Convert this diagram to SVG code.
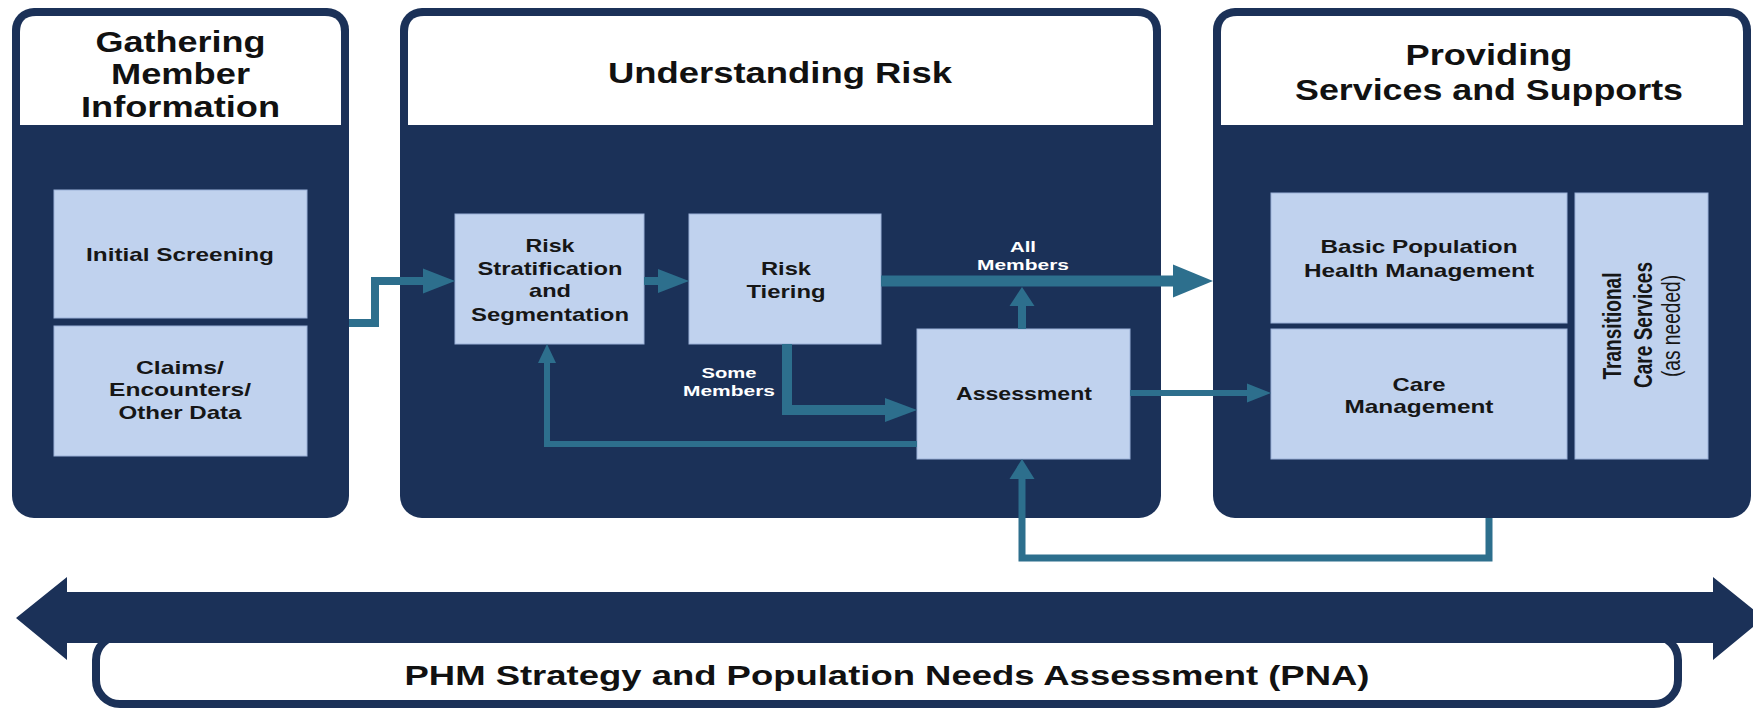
<svg xmlns="http://www.w3.org/2000/svg" width="1753" height="710" viewBox="0 0 1753 710">
  <style>
    .panel { fill: #1b3158; }
    .header { fill: #ffffff; }
    .box { fill: #c0d2ee; stroke: #9cb2d8; stroke-width: 1; }
    .title { font-family: "Liberation Sans", Arial, sans-serif; font-weight: bold; font-size: 29px; fill: #111111; text-anchor: middle; }
    .label { font-family: "Liberation Sans", Arial, sans-serif; font-weight: bold; font-size: 19px; fill: #161616; text-anchor: middle; }
    .side { font-family: "Liberation Sans", Arial, sans-serif; font-size: 20.5px; fill: #161616; text-anchor: middle; }
    .flow { font-family: "Liberation Sans", Arial, sans-serif; font-weight: bold; font-size: 15px; fill: #ffffff; text-anchor: middle; }
    .line { fill: none; stroke: #2d6f8d; stroke-linejoin: miter; stroke-linecap: butt; }
    .head { fill: #2d6f8d; }
    .band { fill: #1b3158; }
    .pna-box { fill: #ffffff; stroke: #1b3158; stroke-width: 8; }
    .pna { font-family: "Liberation Sans", Arial, sans-serif; font-weight: bold; font-size: 28px; fill: #111111; text-anchor: middle; }
  </style>

  <!-- Column 1: Gathering Member Information -->
  <g id="panel-gathering">
    <rect class="panel" x="12" y="8" width="337" height="510" rx="22"/>
    <path class="header" d="M20,125 V32 Q20,16 36,16 H325 Q341,16 341,32 V125 Z"/>
    <text class="title" x="180.5" y="52" textLength="170" lengthAdjust="spacingAndGlyphs">Gathering</text>
    <text class="title" x="180.5" y="84" textLength="139" lengthAdjust="spacingAndGlyphs">Member</text>
    <text class="title" x="180.5" y="117" textLength="199" lengthAdjust="spacingAndGlyphs">Information</text>
  </g>

  <!-- Column 2: Understanding Risk -->
  <g id="panel-understanding">
    <rect class="panel" x="400" y="8" width="761" height="510" rx="22"/>
    <path class="header" d="M408,125 V32 Q408,16 424,16 H1137 Q1153,16 1153,32 V125 Z"/>
    <text class="title" x="780" y="83" font-size="27" textLength="344" lengthAdjust="spacingAndGlyphs">Understanding Risk</text>
  </g>

  <!-- Column 3: Providing Services and Supports -->
  <g id="panel-providing">
    <rect class="panel" x="1213" y="8" width="538" height="510" rx="22"/>
    <path class="header" d="M1221,125 V32 Q1221,16 1237,16 H1727 Q1743,16 1743,32 V125 Z"/>
    <text class="title" x="1489" y="65" textLength="167" lengthAdjust="spacingAndGlyphs">Providing</text>
    <text class="title" x="1489" y="100" textLength="388" lengthAdjust="spacingAndGlyphs">Services and Supports</text>
  </g>

  <!-- Nodes -->
  <g id="node-initial-screening">
    <rect class="box" x="54" y="190" width="253" height="128"/>
    <text class="label" x="180" y="261" font-size="20" textLength="188" lengthAdjust="spacingAndGlyphs">Initial Screening</text>
  </g>
  <g id="node-claims">
    <rect class="box" x="54" y="326" width="253" height="130"/>
    <text class="label" x="180" y="374" textLength="88" lengthAdjust="spacingAndGlyphs">Claims/</text>
    <text class="label" x="180" y="396" textLength="142" lengthAdjust="spacingAndGlyphs">Encounters/</text>
    <text class="label" x="180" y="419" textLength="123" lengthAdjust="spacingAndGlyphs">Other Data</text>
  </g>
  <g id="node-stratification">
    <rect class="box" x="455" y="214" width="189" height="130"/>
    <text class="label" x="550" y="252" textLength="49" lengthAdjust="spacingAndGlyphs">Risk</text>
    <text class="label" x="550" y="275" textLength="145" lengthAdjust="spacingAndGlyphs">Stratification</text>
    <text class="label" x="550" y="297" textLength="42" lengthAdjust="spacingAndGlyphs">and</text>
    <text class="label" x="550" y="321" textLength="158" lengthAdjust="spacingAndGlyphs">Segmentation</text>
  </g>
  <g id="node-tiering">
    <rect class="box" x="689" y="214" width="192" height="130"/>
    <text class="label" x="786" y="275" textLength="50" lengthAdjust="spacingAndGlyphs">Risk</text>
    <text class="label" x="786" y="298" textLength="79" lengthAdjust="spacingAndGlyphs">Tiering</text>
  </g>
  <g id="node-assessment">
    <rect class="box" x="917" y="329" width="213" height="130"/>
    <text class="label" x="1024" y="400" textLength="136" lengthAdjust="spacingAndGlyphs">Assessment</text>
  </g>
  <g id="node-basic-phm">
    <rect class="box" x="1271" y="193" width="296" height="130"/>
    <text class="label" x="1419" y="253" textLength="197" lengthAdjust="spacingAndGlyphs">Basic Population</text>
    <text class="label" x="1419" y="277" textLength="230" lengthAdjust="spacingAndGlyphs">Health Management</text>
  </g>
  <g id="node-care-management">
    <rect class="box" x="1271" y="329" width="296" height="130"/>
    <text class="label" x="1419" y="391" textLength="53" lengthAdjust="spacingAndGlyphs">Care</text>
    <text class="label" x="1419" y="413" textLength="149" lengthAdjust="spacingAndGlyphs">Management</text>
  </g>
  <g id="node-transitional">
    <rect class="box" x="1575" y="193" width="133" height="266"/>
    <text class="side" font-weight="bold" transform="translate(1621,326) scale(1.25,1) rotate(-90)" textLength="107" lengthAdjust="spacingAndGlyphs">Transitional</text>
    <text class="side" font-weight="bold" transform="translate(1652,325) scale(1.25,1) rotate(-90)" textLength="126" lengthAdjust="spacingAndGlyphs">Care Services</text>
    <text class="side" font-size="19" transform="translate(1680,326) scale(1.25,1) rotate(-90)" textLength="102" lengthAdjust="spacingAndGlyphs">(as needed)</text>
  </g>

  <!-- Connectors -->
  <g id="connectors">
    <polyline class="line" stroke-width="8" points="349,323 375,323 375,281 426,281"/>
    <polygon class="head" points="423,268.5 455,281 423,293.5"/>

    <line class="line" stroke-width="8" x1="644" y1="281" x2="661" y2="281"/>
    <polygon class="head" points="658,269 689,281 658,293"/>

    <line class="line" stroke-width="11" x1="881" y1="281" x2="1176" y2="281"/>
    <polygon class="head" points="1173,264.5 1213,281 1173,297.5"/>

    <polyline class="line" stroke-width="10" points="787,344 787,410 888,410"/>
    <polygon class="head" points="885,398 917,410 885,422"/>

    <line class="line" stroke-width="8" x1="1022" y1="329" x2="1022" y2="304"/>
    <polygon class="head" points="1009.5,306 1022,287 1034.5,306"/>

    <line class="line" stroke-width="6" x1="1130" y1="393" x2="1249" y2="393"/>
    <polygon class="head" points="1247,383.5 1271,393 1247,402.5"/>

    <polyline class="line" stroke-width="6" points="917,444 547,444 547,361"/>
    <polygon class="head" points="538,363 547,344 556,363"/>

    <polyline class="line" stroke-width="7" points="1489,518 1489,558 1022,558 1022,477"/>
    <polygon class="head" points="1009.5,479 1022,459 1034.5,479"/>

    <text class="flow" x="1023" y="252" textLength="26" lengthAdjust="spacingAndGlyphs">All</text>
    <text class="flow" x="1023" y="270" textLength="92" lengthAdjust="spacingAndGlyphs">Members</text>
    <text class="flow" x="729" y="378" textLength="55" lengthAdjust="spacingAndGlyphs">Some</text>
    <text class="flow" x="729" y="396" textLength="92" lengthAdjust="spacingAndGlyphs">Members</text>
  </g>

  <!-- Strategy band along the bottom -->
  <g id="pna-band">
    <rect class="pna-box" x="96" y="636" width="1582" height="68" rx="24"/>
    <polygon class="band" points="16,618 67,577 67,592 1713,592 1713,577 1764,618 1713,660 1713,643 67,643 67,660"/>
    <text class="pna" x="887" y="685" textLength="965" lengthAdjust="spacingAndGlyphs">PHM Strategy and Population Needs Assessment (PNA)</text>
  </g>
</svg>
